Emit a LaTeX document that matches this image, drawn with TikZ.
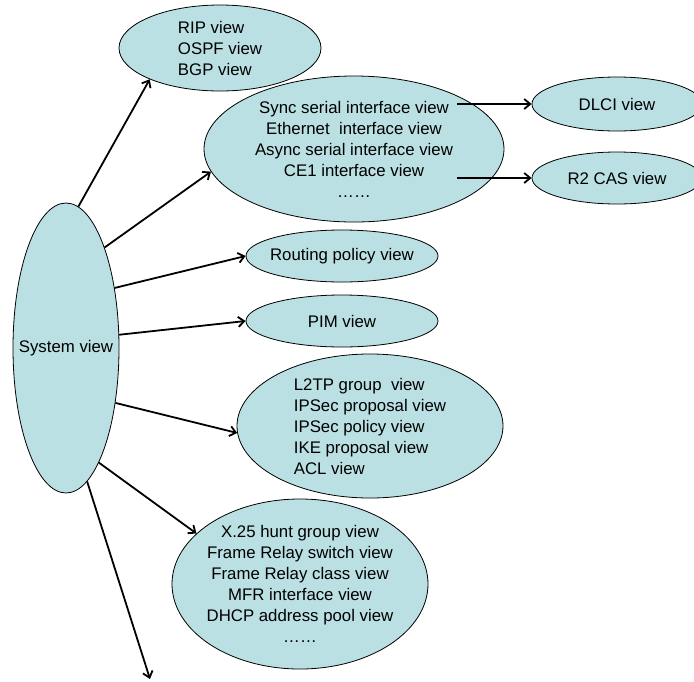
\documentclass[tikz,border=0pt]{standalone}
\usepackage{fontspec}
\setmainfont{Liberation Sans}
\usepackage{tikz}
\usetikzlibrary{arrows.meta}
\usetikzlibrary{shapes}
\usetikzlibrary{positioning}
\definecolor{viewfill}{HTML}{BBE0E3}

\begin{document}
\begin{tikzpicture}[x=1pt,y=-1pt]
        \useasboundingbox (0,0) rectangle (694,681);
        \begin{scope}[every node/.style={ellipse,draw,fill=viewfill,line width=0.8pt,
            inner sep=-12pt,font=\fontsize{16.8}{21}\selectfont}]
            \node[minimum width=106pt,minimum height=290pt] (sys) at (66,348) {System view};
            \node[minimum width=202pt,minimum height=86pt,align=left] (rip) at (220,48) {RIP view\\OSPF view\\BGP view};
            \node[minimum width=300pt,minimum height=146pt,align=center] (sync) at (354,149)
                {Sync serial interface view\\Ethernet\ \ interface view\\Async serial interface view\\CE1 interface view\\……};
            \node[minimum width=170pt,minimum height=54pt] (dlci) at (617,104) {DLCI view};
            \node[minimum width=170pt,minimum height=52pt] (r2) at (617,178) {R2 CAS view};
            \node[minimum width=192pt,minimum height=52pt] (route) at (342,256) {Routing policy view};
            \node[minimum width=192pt,minimum height=52pt] (pim) at (342,321) {PIM view};
            \node[minimum width=266pt,minimum height=144pt,align=left] (l2tp) at (370,426)
                {L2TP group\ \ view\\IPSec proposal view\\IPSec policy view\\IKE proposal view\\ACL view};
            \node[minimum width=256pt,minimum height=170pt,align=center] (x25) at (300,584)
                {X.25 hunt group view\\Frame Relay switch view\\Frame Relay class view\\MFR interface view\\DHCP address pool view\\……};
        \end{scope}
        \coordinate (more) at (150,679);
        \begin{scope}[>={Straight Barb[length=6pt,width=10pt]},
            every edge/.style={draw=black,line width=1.8pt}]
                    \path[->] (sys.85) edge node {} (rip.204);
                    \path[->] (sys.69) edge node {} (sync.189);
                    \path[->] ([xshift=-47pt]sync.east |- dlci.west) edge node {} (dlci.west);
                    \path[->] ([xshift=-47pt]sync.east |- r2.west) edge node {} (r2.west);
                    \path[->] (sys.51) edge node {} (route.180);
                    \path[->] (sys.14) edge node {} (pim.180);
                    \path[->] (sys.-48) edge node {} (l2tp.183);
                    \path[->] (sys.-74) edge node {} (x25.154);
                    \path[->] (sys.-81) edge node {} (more);
        \end{scope}
    \end{tikzpicture}
\end{document}
